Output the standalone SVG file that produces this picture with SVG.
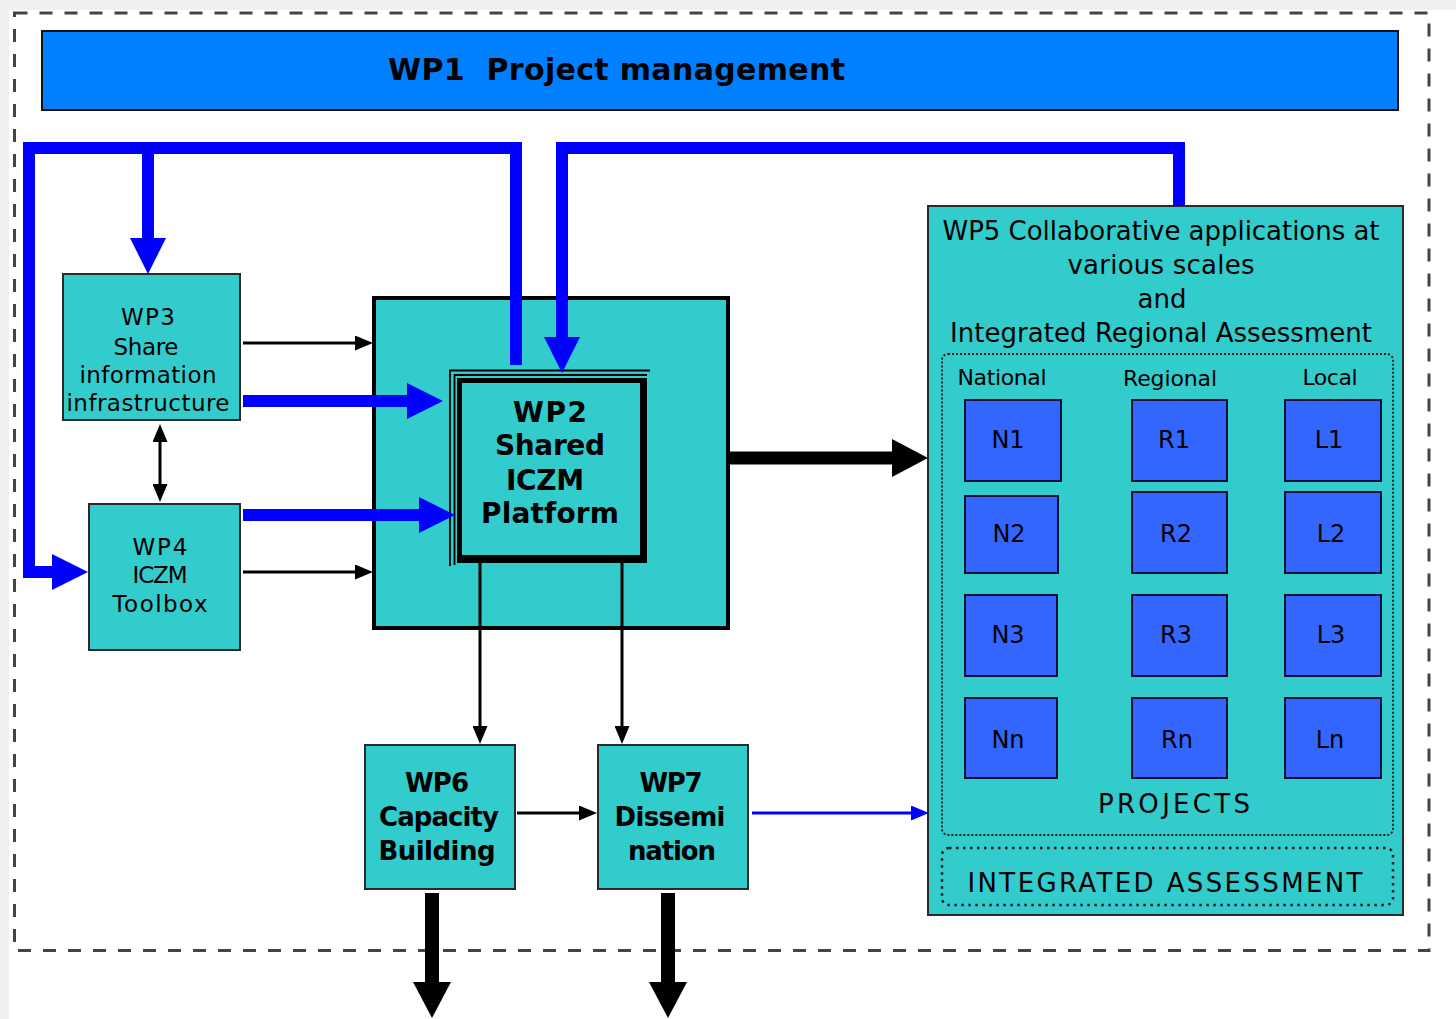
<svg xmlns="http://www.w3.org/2000/svg" width="1456" height="1019" viewBox="0 0 1456 1019">
<defs>
<style>
.t{font-family:"DejaVu Sans",Verdana,sans-serif;fill:#000;text-anchor:middle}
.b{font-weight:bold}
.cy{fill:#33cccc;stroke:#2a2a2a;stroke-width:2}
.bl{fill:#3366ff;stroke:#111133;stroke-width:2}
.thick{fill:none;stroke:#0000ff;stroke-width:12;stroke-linejoin:miter}
.thin{fill:none;stroke:#000;stroke-width:3}
</style>
<marker id="bh" viewBox="0 0 3 3" markerWidth="3" markerHeight="3" refX="0" refY="1.5" orient="auto" markerUnits="strokeWidth">
<path d="M0,0 L3,1.5 L0,3 z" fill="#0000ff"/>
</marker>
<marker id="kh" viewBox="0 0 6 5" markerWidth="6" markerHeight="5" refX="0" refY="2.5" orient="auto" markerUnits="strokeWidth">
<path d="M0,0 L6,2.5 L0,5 z" fill="#000"/>
</marker>
<marker id="khs" viewBox="0 0 6 5" markerWidth="6" markerHeight="5" refX="0" refY="2.5" orient="auto-start-reverse" markerUnits="strokeWidth">
<path d="M0,0 L6,2.5 L0,5 z" fill="#000"/>
</marker>
<marker id="bk" viewBox="0 0 36 38" markerWidth="36" markerHeight="38" refX="0" refY="19" orient="auto" markerUnits="userSpaceOnUse">
<path d="M0,0 L36,19 L0,38 z" fill="#000"/>
</marker>
<marker id="bth" viewBox="0 0 6 5" markerWidth="6" markerHeight="5" refX="0" refY="2.5" orient="auto" markerUnits="strokeWidth">
<path d="M0,0 L6,2.5 L0,5 z" fill="#0000ff"/>
</marker>
</defs>

<rect x="0" y="0" width="1456" height="1019" fill="#ffffff"/>
<rect x="0" y="0" width="1456" height="10" fill="#f0f0f0"/>
<rect x="0" y="0" width="9" height="1019" fill="#f0f0f0"/>

<rect id="border" x="14.5" y="13" width="1414.5" height="937.5" fill="none" stroke="#444" stroke-width="3" stroke-dasharray="13 12"/>

<g id="wp1">
<rect x="42" y="31" width="1356" height="79" fill="#0080ff" stroke="#111" stroke-width="2"/>
<text class="t b" x="388" y="80" font-size="30" style="text-anchor:start" xml:space="preserve" textLength="457">WP1  Project management</text>
</g>

<g id="wp2">
<rect x="374" y="298" width="354" height="330" fill="#33cccc" stroke="#000" stroke-width="4"/>
<polyline points="450,566 450,370.5 650,370.5" fill="none" stroke="#000" stroke-width="1.8"/>
<polyline points="454.5,565 454.5,375 647,375" fill="none" stroke="#000" stroke-width="1.8"/>
<rect x="457" y="378" width="190" height="185" fill="#000"/>
<rect x="462" y="383" width="178" height="172" fill="#33cccc"/>
<text class="t b" x="550" y="422" font-size="28" textLength="74">WP2</text>
<text class="t b" x="550" y="455" font-size="28" textLength="110">Shared</text>
<text class="t b" x="545" y="490" font-size="28" textLength="78">ICZM</text>
<text class="t b" x="550" y="523" font-size="28" textLength="138">Platform</text>
</g>

<g id="wp3">
<rect class="cy" x="63" y="274" width="177" height="146"/>
<text class="t" x="148" y="325" font-size="23" textLength="54">WP3</text>
<text class="t" x="146" y="355" font-size="23" textLength="65">Share</text>
<text class="t" x="148" y="383" font-size="23" textLength="137">information</text>
<text class="t" x="148" y="411" font-size="23" textLength="163">infrastructure</text>
</g>

<g id="wp4">
<rect class="cy" x="89" y="504" width="151" height="146"/>
<text class="t" x="160" y="555" font-size="23" textLength="55">WP4</text>
<text class="t" x="160" y="583" font-size="23" textLength="55">ICZM</text>
<text class="t" x="160" y="612" font-size="23" textLength="95">Toolbox</text>
</g>

<g id="wp6">
<rect class="cy" x="365" y="745" width="150" height="144"/>
<text class="t b" x="437" y="792" font-size="26" textLength="64">WP6</text>
<text class="t b" x="439" y="826" font-size="26" textLength="120">Capacity</text>
<text class="t b" x="437" y="860" font-size="26" textLength="117">Building</text>
</g>

<g id="wp7">
<rect class="cy" x="598" y="745" width="150" height="144"/>
<text class="t b" x="671" y="792" font-size="26" textLength="63">WP7</text>
<text class="t b" x="670" y="826" font-size="26" textLength="111">Dissemi</text>
<text class="t b" x="672" y="860" font-size="26" textLength="88">nation</text>
</g>

<g id="wp5">
<rect class="cy" x="928" y="206" width="475" height="709"/>
<text class="t" x="1161" y="240" font-size="26" textLength="437">WP5 Collaborative applications at</text>
<text class="t" x="1161" y="274" font-size="26" textLength="187">various scales</text>
<text class="t" x="1162" y="308" font-size="26" textLength="49">and</text>
<text class="t" x="1161" y="342" font-size="26" textLength="422">Integrated Regional Assessment</text>
</g>

<g id="projects">
<rect x="942" y="354" width="451" height="481" rx="6" fill="none" stroke="#1a1a1a" stroke-width="1.8" stroke-dasharray="2 2"/>
<text class="t" x="1002" y="385" font-size="22" textLength="89">National</text>
<text class="t" x="1170" y="386" font-size="22" textLength="94">Regional</text>
<text class="t" x="1330" y="385" font-size="22" textLength="55">Local</text>
<text class="t" x="1174" y="813" font-size="26" textLength="152">PROJECTS</text>
</g>

<g id="n1"><rect class="bl" x="965" y="400" width="96" height="81"/><text class="t" x="1008" y="448" font-size="24">N1</text></g>
<g id="r1"><rect class="bl" x="1132" y="400" width="95" height="81"/><text class="t" x="1174" y="448" font-size="24">R1</text></g>
<g id="l1"><rect class="bl" x="1285" y="400" width="96" height="81"/><text class="t" x="1329" y="448" font-size="24">L1</text></g>
<g id="n2"><rect class="bl" x="965" y="496" width="93" height="77"/><text class="t" x="1009" y="542" font-size="24">N2</text></g>
<g id="r2"><rect class="bl" x="1132" y="492" width="95" height="81"/><text class="t" x="1176" y="542" font-size="24">R2</text></g>
<g id="l2"><rect class="bl" x="1285" y="492" width="96" height="81"/><text class="t" x="1331" y="542" font-size="24">L2</text></g>
<g id="n3"><rect class="bl" x="965" y="595" width="92" height="81"/><text class="t" x="1008" y="643" font-size="24">N3</text></g>
<g id="r3"><rect class="bl" x="1132" y="595" width="95" height="81"/><text class="t" x="1176" y="643" font-size="24">R3</text></g>
<g id="l3"><rect class="bl" x="1285" y="595" width="96" height="81"/><text class="t" x="1331" y="643" font-size="24">L3</text></g>
<g id="nn"><rect class="bl" x="965" y="698" width="92" height="80"/><text class="t" x="1008" y="748" font-size="24">Nn</text></g>
<g id="rn"><rect class="bl" x="1132" y="698" width="95" height="80"/><text class="t" x="1177" y="748" font-size="24">Rn</text></g>
<g id="ln"><rect class="bl" x="1285" y="698" width="96" height="80"/><text class="t" x="1330" y="748" font-size="24">Ln</text></g>

<g id="integrated">
<rect x="942" y="848" width="451" height="57" rx="7" fill="none" stroke="#1a1a1a" stroke-width="2.5" stroke-dasharray="2.5 4.5"/>
<text class="t" x="1165" y="892" font-size="26" textLength="395">INTEGRATED ASSESSMENT</text>
</g>

<g id="connectors">
<path class="thick" d="M516,365 V148 H29 V572 H52" marker-end="url(#bh)"/>
<path class="thick" d="M148,148 V238" marker-end="url(#bh)"/>
<path class="thick" d="M1179,206 V148 H562 V337" marker-end="url(#bh)"/>
<path class="thick" d="M243,401 H407" marker-end="url(#bh)"/>
<path class="thick" d="M243,515 H419" marker-end="url(#bh)"/>
<path class="thin" d="M243,343 H355" marker-end="url(#kh)"/>
<path class="thin" d="M243,572 H355" marker-end="url(#kh)"/>
<path class="thin" d="M160,442 V484" marker-start="url(#khs)" marker-end="url(#khs)"/>
<path class="thin" d="M480,563 V726" marker-end="url(#kh)"/>
<path class="thin" d="M622,563 V726" marker-end="url(#kh)"/>
<path class="thin" d="M517,813 H579" marker-end="url(#kh)"/>
<path d="M752,813 H911" fill="none" stroke="#0000ff" stroke-width="3" marker-end="url(#bth)"/>
<path d="M730,458 H892" fill="none" stroke="#000" stroke-width="13" marker-end="url(#bk)"/>
<path d="M432,893 V982" fill="none" stroke="#000" stroke-width="14" marker-end="url(#bk)"/>
<path d="M668,893 V982" fill="none" stroke="#000" stroke-width="14" marker-end="url(#bk)"/>
</g>
</svg>
